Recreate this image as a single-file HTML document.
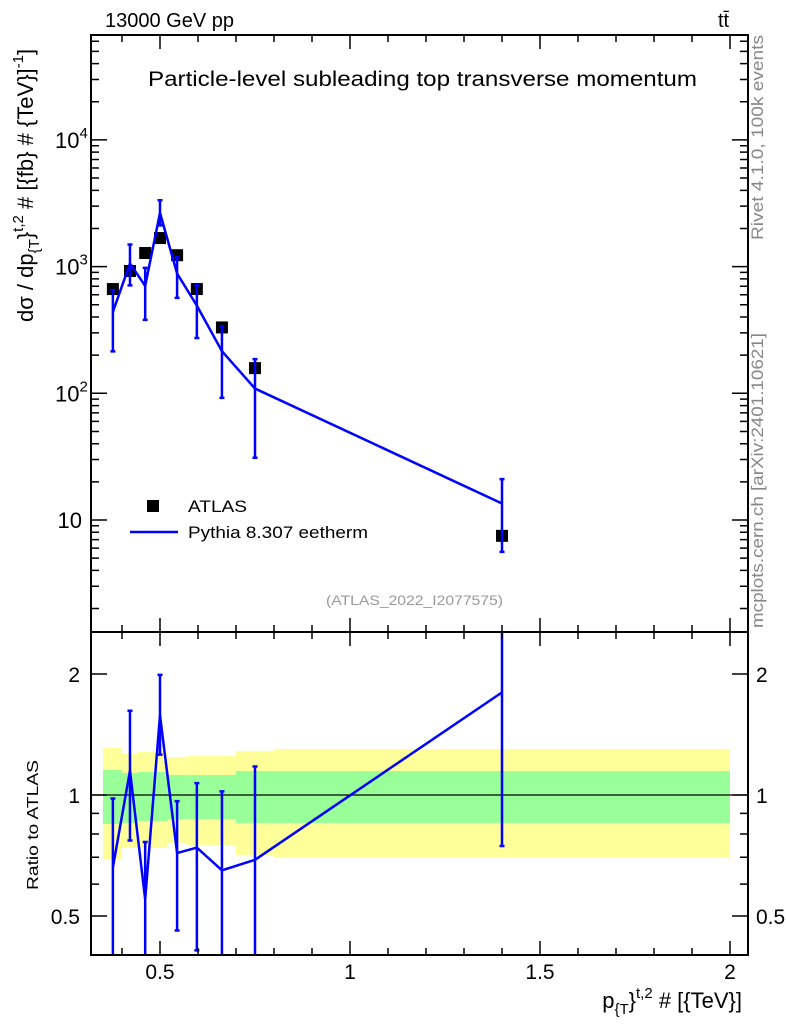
<!DOCTYPE html>
<html><head><meta charset="utf-8"><style>
body{margin:0;background:#fff;}
svg{display:block;font-family:"Liberation Sans",Arial,sans-serif;}
</style></head><body>
<svg id="c" width="786" height="1024" xmlns="http://www.w3.org/2000/svg">
<g id="bands"></g>
<g id="marks"></g>
<g id="axes"></g>
<text x="105" y="27" font-size="20">13000 GeV pp</text>
<text x="718" y="27" font-size="20">tt̄</text>
<text x="148" y="86" font-size="21" textLength="549" lengthAdjust="spacingAndGlyphs">Particle-level subleading top transverse momentum</text>
<text x="326" y="605" font-size="14" fill="#999" textLength="177" lengthAdjust="spacingAndGlyphs">(ATLAS_2022_I2077575)</text>
<text transform="translate(763,240) rotate(-90)" font-size="17" fill="#888" textLength="205" lengthAdjust="spacingAndGlyphs">Rivet 4.1.0,  100k events</text>
<text transform="translate(763,628) rotate(-90)" font-size="17" fill="#888" textLength="295" lengthAdjust="spacingAndGlyphs">mcplots.cern.ch [arXiv:2401.10621]</text>
<rect x="147" y="500" width="12" height="12" fill="#000"/>
<text x="188" y="512" font-size="17" textLength="59" lengthAdjust="spacingAndGlyphs">ATLAS</text>
<line x1="130" y1="532" x2="178" y2="532" stroke="#0000ff" stroke-width="2.5"/>
<text x="188" y="538" font-size="17" textLength="180" lengthAdjust="spacingAndGlyphs">Pythia 8.307 eetherm</text>
<text transform="translate(33,322) rotate(-90)" font-size="22">dσ / dp<tspan font-size="15" dy="6">{T</tspan><tspan dy="-6">}</tspan><tspan font-size="15" dy="-10">t,2</tspan><tspan dy="10"> # [{fb} # {TeV}]</tspan><tspan font-size="15" dy="-10">-1</tspan><tspan dy="10">]</tspan></text>
<text transform="translate(38,890) rotate(-90)" font-size="16" textLength="130" lengthAdjust="spacingAndGlyphs">Ratio to ATLAS</text>
<text x="742" y="1008" font-size="22" text-anchor="end">p<tspan font-size="15" dy="6">{T</tspan><tspan dy="-6">}</tspan><tspan font-size="15" dy="-10">t,2</tspan><tspan dy="10"> # [{TeV}]</tspan></text>
</svg>
<script>
const binLo=[0.35,0.40,0.44,0.48,0.52,0.57,0.625,0.70,0.80];
const binHi=[0.40,0.44,0.48,0.52,0.57,0.625,0.70,0.80,2.00];
const xPts=[0.376,0.421,0.461,0.50,0.545,0.597,0.663,0.75,1.40];
const dataVals=[665,923,1280,1680,1230,665,331,158,7.5];
const mcVals=[439,1061,704,2654,882,492,215,109,13.5];
const mcUp=[652,1495,978,3343,1188,712,338,186,21];
const mcDn=[214,711,380,2117,566,273,92,31,5.6];
const yelHi=[1.31,1.265,1.279,1.279,1.243,1.25,1.25,1.287,1.302];
const yelLo=[0.693,0.738,0.738,0.738,0.76,0.751,0.751,0.709,0.701];
const grnHi=[1.154,1.134,1.141,1.141,1.121,1.121,1.121,1.147,1.147];
const grnLo=[0.847,0.852,0.862,0.862,0.871,0.871,0.871,0.852,0.852];
const xTicks=[0.5,1,1.5,2];
const xTickLabels=["0.5","1","1.5","2"];
const NS="http://www.w3.org/2000/svg";
const L=91,R=748,T=35,M=632,B=955;
const X=v=>160+(v-0.5)*380;
const Y=v=>520-126.7*(Math.log10(v)-1);
const RY=v=>795-402*Math.log10(v);
const clampT=y=>Math.max(T,Math.min(M,y));
const clampR=y=>Math.max(M,Math.min(B,y));
function mk(tag,at,parent){const e=document.createElementNS(NS,tag);for(const k in at)e.setAttribute(k,at[k]);document.getElementById(parent).appendChild(e);return e;}
for(let i=0;i<binLo.length;i++){
 let e=mk('rect',{x:X(binLo[i]),y:RY(yelHi[i]),width:X(binHi[i])-X(binLo[i]),height:RY(yelLo[i])-RY(yelHi[i]),fill:'#ffff99'},'bands');
 
 
 e=mk('rect',{x:X(binLo[i]),y:RY(grnHi[i]),width:X(binHi[i])-X(binLo[i]),height:RY(grnLo[i])-RY(grnHi[i]),fill:'#99ff99'},'bands');
 
 
}
let e=mk('line',{x1:L,x2:R,y1:RY(1),y2:RY(1),stroke:'#000','stroke-width':1.2},'bands');


for(let i=0;i<xPts.length;i++){
 const x=X(xPts[i]);
 e=mk('rect',{x:x-6,y:Y(dataVals[i])-6,width:12,height:12,fill:'#000'},'marks');
 
 
 const y1=clampT(Y(mcUp[i])),y2=clampT(Y(mcDn[i]));
 e=mk('path',{d:`M${x},${y1}V${y2}M${x-2.5},${y1}h5M${x-2.5},${y2}h5`,stroke:'#0000ff','stroke-width':2.5,fill:'none'},'marks');
 
 
 const ru=mcUp[i]/dataVals[i],rd=mcDn[i]/dataVals[i];
 const q1=clampR(RY(ru)),q2=clampR(RY(rd));
 e=mk('path',{d:`M${x},${q1}V${q2}`+(q1>M?`M${x-2.5},${q1}h5`:'')+(q2<B?`M${x-2.5},${q2}h5`:''),stroke:'#0000ff','stroke-width':2.5,fill:'none'},'marks');
 
 
}
e=mk('polyline',{points:xPts.map((v,i)=>X(v)+','+Y(mcVals[i])).join(' '),stroke:'#0000ff','stroke-width':2.5,fill:'none'},'marks');


e=mk('polyline',{points:xPts.map((v,i)=>X(v)+','+RY(mcVals[i]/dataVals[i])).join(' '),stroke:'#0000ff','stroke-width':2.5,fill:'none'},'marks');


e=mk('rect',{x:L,y:T,width:R-L,height:M-T,fill:'none',stroke:'#000','stroke-width':2},'axes');


e=mk('rect',{x:L,y:M,width:R-L,height:B-M,fill:'none',stroke:'#000','stroke-width':2},'axes');


let d='';
for(let v=0.4;v<=2.001;v+=0.1){const x=X(v);const big=Math.abs(v*2-Math.round(v*2))<1e-6;const h=big?14:7;
 d+=`M${x},${B}v${-h}M${x},${M}v${h}M${x},${M}v${-h}M${x},${T}v${h}`;}
for(let p=0;p<=4;p++)for(let k=1;k<10;k++){const v=k*Math.pow(10,p);const y=Y(v);if(y<T||y>M)continue;const h=k==1?16:8;d+=`M${L},${y}h${h}M${R},${y}h${-h}`;}
[0.4,0.5,0.6,0.7,0.8,0.9,1,2].forEach(v=>{const y=RY(v);const h=(v==1||v==2||v==0.5)?16:8;d+=`M${L},${y}h${h}M${R},${y}h${-h}`;});
e=mk('path',{d:d,stroke:'#000','stroke-width':1.5,fill:'none'},'axes');


xTicks.forEach((v,i)=>{e=mk('text',{x:X(v),y:979,'font-size':21,'text-anchor':'middle'},'axes');e.textContent=xTickLabels[i];
 
 });
[[10,'10',''],[100,'10','2'],[1000,'10','3'],[10000,'10','4']].forEach(t=>{
 e=mk('text',{x:t[2]?55:82,y:Y(t[0])+8,'font-size':22,'text-anchor':t[2]?'start':'end'},'axes');
 e.innerHTML=t[1]+(t[2]?`<tspan font-size="15" dy="-10">${t[2]}</tspan>`:'');
 
 });
[[2,'2'],[1,'1'],[0.5,'0.5']].forEach(t=>{
 e=mk('text',{x:80,y:RY(t[0])+8,'font-size':21,'text-anchor':'end'},'axes');e.textContent=t[1];
 
 
 e=mk('text',{x:756,y:RY(t[0])+8,'font-size':21},'axes');e.textContent=t[1];
 
 });
</script>
</body></html>
